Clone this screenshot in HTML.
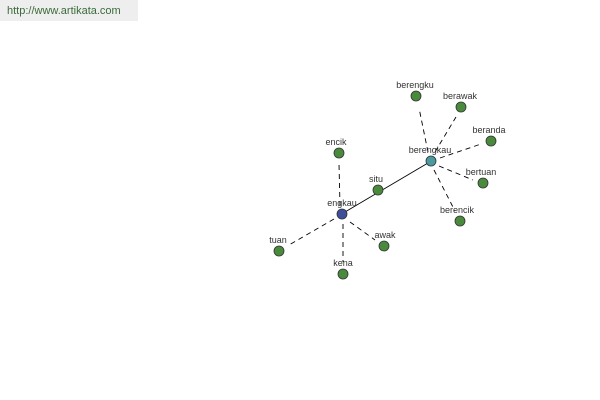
<!DOCTYPE html><html><head><style>body{margin:0;background:#fff;width:600px;height:400px;overflow:hidden;position:relative;font-family:"Liberation Sans",sans-serif}
.h{position:absolute;left:0;top:0;width:138px;height:21px;background:#eeeeee;color:#3a6b3a;font-size:11px;line-height:23px;padding-left:7px;box-sizing:border-box}</style></head><body>
<div class="h">http://www.artikata.com</div>
<svg width="600" height="400" style="position:absolute;left:0;top:0" font-family="Liberation Sans, sans-serif" font-size="9" fill="#333">
<g stroke="#000" stroke-width="0.9" stroke-dasharray="5,4">
<line x1="340" y1="206" x2="339" y2="164"/>
<line x1="334" y1="219" x2="289" y2="245"/>
<line x1="343" y1="224" x2="343" y2="262"/>
<line x1="350" y1="222" x2="375" y2="240"/>
<line x1="428" y1="152" x2="419" y2="108"/>
<line x1="435" y1="152" x2="456" y2="117"/>
<line x1="440" y1="158" x2="481" y2="144"/>
<line x1="439" y1="166" x2="473" y2="180"/>
<line x1="434" y1="170" x2="455" y2="211"/>
</g>
<line x1="345" y1="212" x2="428" y2="163" stroke="#000" stroke-width="0.9"/>
<g stroke="#333" stroke-width="0.8" fill="#4a8a3c">
<circle cx="378" cy="190" r="5"/><circle cx="339" cy="153" r="5"/><circle cx="279" cy="251" r="5"/>
<circle cx="343" cy="274" r="5"/><circle cx="384" cy="246" r="5"/><circle cx="416" cy="96" r="5"/>
<circle cx="461" cy="107" r="5"/><circle cx="491" cy="141" r="5"/><circle cx="483" cy="183" r="5"/>
<circle cx="460" cy="221" r="5"/>
<circle cx="342" cy="214" r="5" fill="#3f4e9a"/><circle cx="431" cy="161" r="5" fill="#4a9aa0"/>
</g>
<g text-anchor="middle">
<text x="376" y="182">situ</text><text x="336" y="145">encik</text><text x="278" y="243">tuan</text>
<text x="343" y="266">kena</text><text x="385" y="238">awak</text><text x="415" y="88">berengku</text>
<text x="460" y="99">berawak</text><text x="489" y="133">beranda</text><text x="481" y="175">bertuan</text>
<text x="457" y="213">berencik</text><text x="342" y="206">engkau</text><text x="430" y="153">berengkau</text>
</g></svg></body></html>
